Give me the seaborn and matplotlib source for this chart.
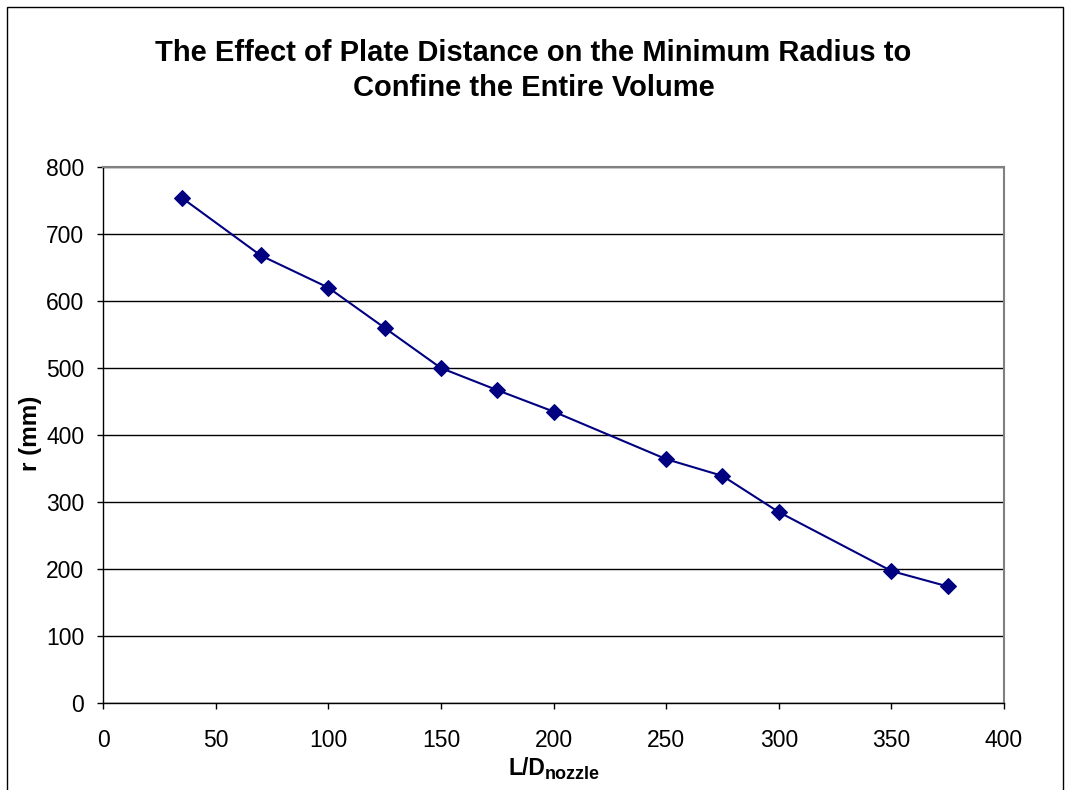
import matplotlib
matplotlib.use("Agg")
import matplotlib.pyplot as plt
import seaborn as sns
import pandas as pd
from matplotlib.patches import Rectangle

# Data
ld_ratio = [35, 70, 100, 125, 150, 175, 200, 250, 275, 300, 350, 375]
radius_mm = [754, 668, 620, 560, 500, 467, 435, 364, 339, 285, 197, 174]
x_ticks = [0, 50, 100, 150, 200, 250, 300, 350, 400]
y_ticks = [0, 100, 200, 300, 400, 500, 600, 700, 800]
title_line1 = "The Effect of Plate Distance on the Minimum Radius to"
title_line2 = "Confine the Entire Volume"
x_label_main = "L/D"
x_label_sub = "nozzle"
y_label = "r (mm)"

sns.set_theme(style="white")
plt.rcParams['font.family'] = ['Liberation Sans', 'DejaVu Sans']
plt.rcParams['text.color'] = 'black'
plt.rcParams['axes.labelcolor'] = 'black'

df = pd.DataFrame({"ld": ld_ratio, "r": radius_mm})

W, H = 1067, 790
fig = plt.figure(figsize=(W/100, H/100), dpi=100)
fig.patch.set_facecolor("white")
ax = fig.add_axes([103/W, 1-703/H, (1004-103)/W, (703-167)/H])

sns.lineplot(data=df, x="ld", y="r", ax=ax, color="#000080", marker="D",
             markersize=8, markeredgecolor="#000080", linewidth=1.5, zorder=3)

ax.set_xlim(0, 400)
ax.set_ylim(0, 800)
ax.set_xticks(x_ticks)
ax.set_yticks(y_ticks)
ax.set_xticklabels([str(v) for v in x_ticks], fontsize=16.5)
ax.set_yticklabels([str(v) for v in y_ticks], fontsize=16.5)
ax.yaxis.grid(True, color="black", linewidth=1)
ax.xaxis.grid(False)
ax.set_axisbelow(True)

for s in ["top", "right"]:
    ax.spines[s].set_color("#808080")
    ax.spines[s].set_linewidth(1.5)
for s in ["left", "bottom"]:
    ax.spines[s].set_color("black")
    ax.spines[s].set_linewidth(1)

ax.tick_params(axis="x", direction="out", length=4.5, width=1, color="black",
               bottom=True, pad=14, labelcolor="black")
ax.tick_params(axis="y", direction="out", length=4.5, width=1, color="black",
               left=True, pad=9, labelcolor="black")

ax.set_xlabel("")
ax.set_ylabel("")

# y label
fig.text(30/W, 1-433/H, y_label, rotation=90, ha="center", va="center",
         fontsize=17.5, fontweight="bold", color="black")

# x label with larger subscript
anchor_x = 545/W
fig.text(anchor_x, 1-775/H, x_label_main, ha="right", va="baseline",
         fontsize=16.5, fontweight="bold", color="black")
fig.text(anchor_x, 1-779/H, x_label_sub, ha="left", va="baseline",
         fontsize=13, fontweight="bold", color="black")

# title
fig.text(0.5, 1-61/H, title_line1, ha="center", va="baseline", fontsize=21,
         fontweight="bold", color="black")
fig.text(0.5, 1-96/H, title_line2, ha="center", va="baseline", fontsize=21,
         fontweight="bold", color="black")

fig.add_artist(Rectangle((7/W, -0.05), (1063-7)/W, 1-7/H+0.05,
                         transform=fig.transFigure, fill=False,
                         edgecolor="black", linewidth=1, clip_on=False))

fig.savefig("out.png", dpi=100)
